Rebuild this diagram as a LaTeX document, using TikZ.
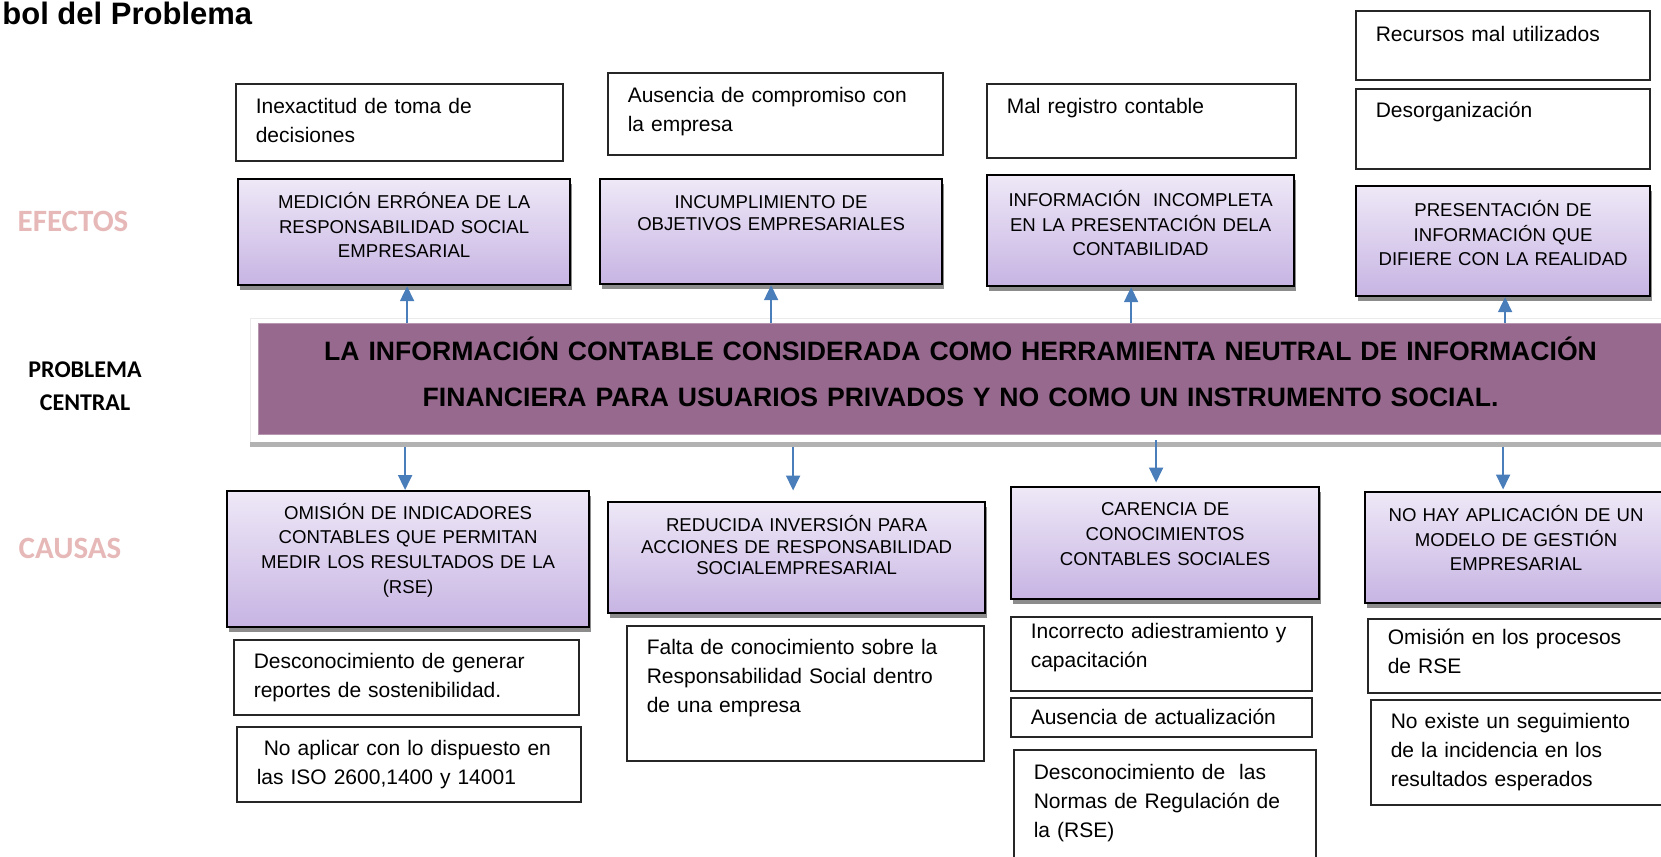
\documentclass[tikz,border=0pt]{standalone}
\usepackage{fontspec}
\setmainfont{Liberation Sans}
\newfontfamily\carlito{Carlito}
\usetikzlibrary{arrows.meta,shadows}
\definecolor{lilaclaro}{RGB}{238,232,247}
\definecolor{lilaoscuro}{RGB}{199,180,227}
\definecolor{malva}{RGB}{152,105,142}
\definecolor{azulflecha}{RGB}{74,126,187}
\definecolor{rosarotulo}{RGB}{230,184,183}
\tikzset{
  nota/.style 2 args={draw=black!85, line width=0.8pt, fill=white, anchor=north west,
    align=left, inner xsep=10pt, minimum width=#1, text width=#1-20pt, minimum height=#2,
    font=\fontsize{10.5}{14.5}\selectfont,
    drop shadow={shadow xshift=0.6pt, shadow yshift=-0.6pt, fill=black!40, opacity=1}},
  lila/.style 2 args={draw=black, line width=1.1pt, top color=lilaclaro, bottom color=lilaoscuro,
    anchor=north west, align=center, inner xsep=2pt, minimum width=#1, text width=#1-4pt,
    minimum height=#2, font=\fontsize{9.3}{12.35}\selectfont,
    drop shadow={shadow xshift=1pt, shadow yshift=-2.5pt, fill=black!45, opacity=1}},
  subir/.style={execute at end node={\par\kern#1}},
  flecha/.style={azulflecha, line width=1pt, -{Triangle[length=7.5pt,width=7pt]}},
  rotulo/.style={font=\carlito\bfseries\fontsize{15.5}{18}\selectfont, text=rosarotulo}
}

\begin{document}
\begin{tikzpicture}[x=0.5pt,y=-0.5pt]
\useasboundingbox (0,0) rectangle (1661,857);
% Titulo y rotulos
\node[font=\bfseries\fontsize{15.5}{18}\selectfont, anchor=base west, inner sep=0pt] (titulo) at (2,24) {bol del Problema};
\node[rotulo] (efectos) at (73,221) {EFECTOS};
\node[rotulo] (causas) at (70,548) {CAUSAS};
\node[font=\carlito\bfseries\fontsize{12}{16.5}\selectfont, align=center] (problema) at (85,386) {PROBLEMA\\CENTRAL};

% Problema central
\filldraw[fill=white, draw=black!8] (250,318) rectangle (1670,442);
\fill[black!30] (250,442) rectangle (1670,447);
\node[draw=malva!70!white, line width=0.6pt, fill=malva, anchor=north west, align=center,
  minimum width=702pt, text width=698pt, inner xsep=2pt, minimum height=55.5pt,
  font=\bfseries\fontsize{13.3}{23}\selectfont, subir=7.5pt] (pc) at (258,323)
  {LA INFORMACIÓN CONTABLE CONSIDERADA COMO HERRAMIENTA NEUTRAL DE INFORMACIÓN\\FINANCIERA PARA USUARIOS PRIVADOS Y NO COMO UN INSTRUMENTO SOCIAL.};

% Efectos
\node[nota={163.5pt}{38.5pt}, subir=1.5pt] (t1) at (235,83) {Inexactitud de toma de\\decisiones};
\node[nota={167.5pt}{41pt}, subir=2.5pt] (t2) at (607,72) {Ausencia de compromiso con\\la empresa};
\node[nota={154.5pt}{37pt}, subir=13pt] (t3) at (986,83) {Mal registro contable};
\node[nota={147pt}{34.5pt}, subir=11.5pt] (t4) at (1355,10) {Recursos mal utilizados};
\node[nota={147pt}{40pt}, subir=17pt] (t5) at (1355,88) {Desorganización};

\node[lila={166pt}{53pt}, subir=7pt] (e1) at (237,178) {MEDICIÓN ERRÓNEA DE LA\\RESPONSABILIDAD SOCIAL\\EMPRESARIAL};
\node[lila={171pt}{52.5pt}, subir=18.5pt, font=\fontsize{9.3}{11}\selectfont] (e2) at (599,178) {INCUMPLIMIENTO DE\\OBJETIVOS EMPRESARIALES};
\node[lila={153.5pt}{55.5pt}, subir=7.5pt] (e3) at (986,174) {INFORMACIÓN~ INCOMPLETA\\EN LA PRESENTACIÓN DELA\\CONTABILIDAD};
\node[lila={147pt}{55pt}, subir=8pt] (e4) at (1355,185) {PRESENTACIÓN DE\\INFORMACIÓN QUE\\DIFIERE CON LA REALIDAD};

% Causas
\node[lila={181pt}{68pt}, subir=9pt] (c1) at (226,490) {OMISIÓN DE INDICADORES\\CONTABLES QUE PERMITAN\\MEDIR LOS RESULTADOS DE LA\\(RSE)};
\node[lila={188.5pt}{55.5pt}, subir=12.5pt, font=\fontsize{9.3}{10.8}\selectfont] (c2) at (607,501) {REDUCIDA INVERSIÓN PARA\\ACCIONES DE RESPONSABILIDAD\\SOCIALEMPRESARIAL};
\node[lila={154pt}{56pt}, subir=9pt] (c3) at (1010,486) {CARENCIA DE\\CONOCIMIENTOS\\CONTABLES SOCIALES};
\node[lila={151pt}{55.5pt}, subir=9.5pt] (c4) at (1364,491) {NO HAY APLICACIÓN DE UN\\MODELO DE GESTIÓN\\EMPRESARIAL};

\node[nota={172.5pt}{37.5pt}] (w1) at (233,639) {Desconocimiento de generar\\reportes de sostenibilidad.};
\node[nota={172pt}{37.5pt}] (w2) at (236,726) {~No aplicar con lo dispuesto en\\las ISO 2600,1400 y 14001};
\node[nota={178.5pt}{67.5pt}, subir=15.5pt] (w3) at (626,625) {Falta de conocimiento sobre la\\Responsabilidad Social dentro\\de una empresa};
\node[nota={150.5pt}{37pt}, subir=6pt] (w4) at (1010,616) {Incorrecto adiestramiento y\\capacitación};
\node[nota={150.5pt}{19.5pt}, inner ysep=2pt] (w5) at (1010,697) {Ausencia de actualización};
\node[nota={151pt}{65.5pt}, subir=12.5pt] (w6) at (1013,749) {Desconocimiento de~ las\\Normas de Regulación de\\la (RSE)};
\node[nota={150.5pt}{37pt}, subir=4pt] (w7) at (1367,618) {Omisión en los procesos\\de RSE};
\node[nota={149pt}{52.5pt}] (w8) at (1370,699) {No existe un seguimiento\\de la incidencia en los\\resultados esperados};

% Flechas
\draw[flecha] ([xshift=1.5pt]pc.north -| e1.south) -- ([xshift=1.5pt]e1.south);
\draw[flecha] (pc.north -| e2.south) -- (e2.south);
\draw[flecha] ([xshift=-4.75pt]pc.north -| e3.south) -- ([xshift=-4.75pt]e3.south);
\draw[flecha] ([xshift=1pt]pc.north -| e4.south) -- ([xshift=1pt]e4.south);
\draw[flecha, shorten <=6pt] ([xshift=-1.5pt]pc.south -| c1.north) -- ([xshift=-1.5pt]c1.north);
\draw[flecha, shorten <=6pt, shorten >=5.25pt] ([xshift=-1.75pt]pc.south -| c2.north) -- ([xshift=-1.75pt]c2.north);
\draw[flecha, shorten <=2.5pt, shorten >=1.75pt] ([xshift=-4.5pt]pc.south -| c3.north) -- ([xshift=-4.5pt]c3.north);
\draw[flecha, shorten <=6pt, shorten >=0.75pt] ([xshift=-6.5pt]pc.south -| c4.north) -- ([xshift=-6.5pt]c4.north);
\end{tikzpicture}
\end{document}
